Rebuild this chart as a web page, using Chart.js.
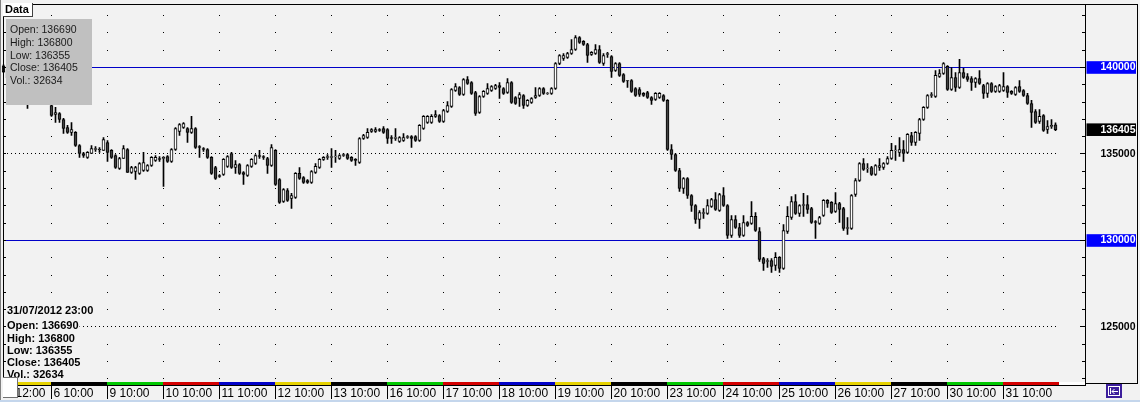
<!DOCTYPE html>
<html>
<head>
<meta charset="utf-8">
<script src="https://cdn.jsdelivr.net/npm/chart.js@4.4.0/dist/chart.umd.min.js"></script>
<style>
  html, body { margin: 0; padding: 0; background: #f2f2f2; }
  #wrap { width: 1140px; height: 402px; }
</style>
</head>
<body>
<div id="wrap"><canvas id="chart" width="1140" height="402"></canvas></div>
<script>
// === Data (hourly bars, July 2012) ===
const days = [5, 6, 9, 10, 11, 12, 13, 16, 17, 18, 19, 20, 23, 24, 25, 26, 27, 30, 31];
const sessionHours = [10, 11, 12, 13, 14, 15, 16, 17, 18, 19, 20, 21, 22, 23];
const firstDayFromHour = 12;
const emptySlots = 7;

const opens = [
  140100, 139750, 139400, 139200, 139350, 138950, 138800, 138100, 138300, 138200, 138050, 138100,
  137805, 137285, 137340, 136995, 136530, 136245, 136245, 135490, 135030, 134800, 135030, 135260, 135290, 135205,
  135665, 135205, 134915, 134165, 134740, 135260, 133930, 133990, 133875, 134045, 134045, 134335, 134625, 134740,
  134740, 134855, 134565, 135260, 136300, 136530, 136475, 136245, 136475, 135435, 135320, 135260, 134800, 134220,
  133755, 133815, 134280, 135030, 134220, 134395, 133930, 133755, 134280, 134450, 134915, 134855, 134740, 134335,
  135205, 133525, 132255, 132890, 132430, 132485, 133875, 133640, 133470, 133355, 133930, 134220, 134685, 134800,
  134800, 134855, 134740, 134915, 134970, 134800, 134685, 134510, 135895, 135955, 136300, 136300, 136415, 136475,
  136415, 135955, 135900, 135725, 135780, 135955, 136010, 136010, 135780, 136475, 136820, 136820, 137170, 137225,
  136880, 137455, 137745, 138670, 138845, 138440, 139305, 139135, 138555, 137400, 138325, 138500, 138670, 138785,
  138960, 138785, 138555, 139135, 138265, 138210, 138380, 137805, 137975, 138265, 138380, 138785, 138500, 138500,
  138785, 140230, 140520, 140580, 140810, 141040, 141735, 141505, 141330, 140750, 140810, 141040, 140230, 140750,
  140635, 139825, 140230, 139595, 139250, 139250, 138785, 138730, 138500, 138555, 138265, 138150, 138265, 138380,
  138095, 135260, 134970, 134045, 133005, 133585, 132600, 132025, 131215, 131560, 131560, 131965, 132370, 131735,
  132600, 132025, 130290, 131215, 130750, 130290, 131040, 130985, 131390, 130520, 128960, 128785, 128845, 128555,
  129020, 128385, 130520, 131330, 132255, 131560, 132025, 132080, 131850, 131100, 130985, 131445, 132315, 132200,
  131675, 132140, 131850, 130695, 130695, 132660, 133470, 134450, 134160, 134220, 133815, 134220, 134220, 134450,
  134740, 135205, 135090, 135260, 135090, 136070, 135665, 136185, 136995, 137690, 138380, 138325, 139480, 139655,
  140060, 138730, 139420, 138845, 139710, 139480, 139365, 139135, 139365, 138960, 138500, 139075, 138615, 138615,
  138670, 138900, 138615, 138440, 138900, 138670, 138380, 137920, 137455, 136880, 137225, 136415, 136590, 136690
];
const highs = [
  140150, 139850, 139550, 139450, 139400, 139100, 138900, 138400, 138450, 138350, 138200, 138150,
  137900, 137690, 137400, 137055, 136650, 136820, 136300, 135550, 135090, 135145, 135490, 135435, 135375, 135955,
  135780, 135260, 134970, 134800, 135490, 135320, 134280, 134280, 134510, 135090, 134395, 134855, 134915, 134855,
  134855, 134915, 135320, 136530, 136765, 136820, 136530, 137170, 136530, 135490, 135375, 135320, 134855, 134280,
  133815, 134740, 134915, 135090, 134625, 134450, 133990, 134395, 134740, 134970, 135205, 134915, 134800, 135550,
  135260, 133585, 133005, 133005, 132720, 133930, 134220, 133700, 133525, 134045, 134450, 134740, 134855, 134970,
  135320, 135205, 134970, 135030, 135030, 134855, 134740, 135955, 136130, 136475, 136475, 136530, 136475, 136590,
  136475, 136070, 136475, 136010, 136185, 136070, 136070, 136070, 136705, 137225, 137225, 137285, 137515, 137285,
  137575, 138035, 138785, 139075, 138900, 139365, 139480, 139190, 138615, 138380, 138670, 139075, 138960, 139020,
  139135, 138845, 139365, 139190, 138325, 138555, 138440, 138150, 138265, 138845, 138845, 138845, 138555, 138845,
  140290, 140750, 140810, 140870, 141620, 141850, 141790, 141560, 141390, 140925, 141330, 141270, 140810, 140870,
  140695, 140290, 140290, 139655, 139250, 139305, 138845, 138845, 138555, 138615, 138325, 138555, 138555, 138440,
  138150, 135550, 135030, 134165, 133640, 133640, 132660, 132080, 131735, 131850, 132370, 132430, 132775, 132720,
  133065, 132080, 131445, 131445, 130985, 131445, 131100, 132255, 131620, 130750, 129020, 128960, 128960, 129305,
  129075, 130925, 131965, 132545, 132660, 132080, 132720, 132600, 131910, 131155, 131390, 132370, 132370, 132255,
  132775, 132200, 131910, 131330, 132660, 133585, 134510, 134740, 134450, 134280, 134395, 134740, 134510, 134855,
  135610, 135490, 135955, 135780, 136185, 136245, 136300, 137055, 137745, 138440, 138555, 139825, 139885, 140290,
  140115, 140000, 139710, 140465, 139945, 139655, 139480, 139420, 139825, 139020, 139135, 139135, 138960, 139020,
  139710, 138960, 138670, 138900, 139250, 138730, 138500, 138095, 137570, 137570, 137285, 136935, 136995, 136800
];
const lows = [
  139700, 139300, 139100, 139050, 138850, 138700, 137630, 137950, 138100, 137950, 137950, 137900,
  137170, 136820, 136820, 136185, 136185, 136070, 135435, 134800, 134800, 134740, 135030, 135145, 135090, 135205,
  134565, 134740, 134160, 134105, 134740, 133930, 133875, 133525, 133815, 133990, 133990, 134280, 134565, 134565,
  133120, 134510, 134510, 135205, 136070, 136475, 135665, 136185, 135320, 134800, 135145, 134740, 133815, 133525,
  133640, 133755, 134220, 134160, 133875, 133815, 133240, 133700, 134220, 134395, 134740, 134685, 133875, 134280,
  133180, 132140, 132195, 132255, 131850, 132430, 133525, 133295, 133295, 133295, 133875, 134165, 134625, 134685,
  134220, 134510, 134685, 134855, 134685, 134565, 134335, 134450, 135840, 135895, 136245, 136245, 136300, 136185,
  135610, 135610, 135780, 135665, 135725, 135895, 135375, 135725, 135725, 136415, 136765, 136765, 137110, 136820,
  136820, 137400, 137690, 138615, 138380, 138380, 139020, 138440, 137225, 137340, 138270, 138440, 138615, 138730,
  138210, 138440, 138500, 137920, 137860, 137745, 137630, 137745, 137920, 138210, 138325, 138440, 138440, 138440,
  138730, 140170, 140405, 140520, 140750, 140985, 141390, 141270, 140290, 140695, 140750, 140230, 140115, 140580,
  139420, 139770, 139480, 139135, 138845, 138555, 138325, 138325, 138325, 138210, 137860, 138095, 138210, 138035,
  135205, 134680, 133990, 132835, 132720, 132430, 131675, 130985, 130695, 131270, 131500, 131910, 131735, 131675,
  131965, 130115, 130175, 130695, 130175, 130230, 130810, 130925, 130520, 128785, 128265, 128440, 128150, 128265,
  128150, 128325, 130405, 131215, 131500, 131390, 131390, 131560, 130985, 130115, 130925, 131390, 131910, 131560,
  131620, 131040, 130580, 130350, 130635, 132545, 133410, 134045, 133930, 133760, 133760, 134045, 134105, 134395,
  134685, 134625, 134855, 134565, 135030, 135490, 135490, 135780, 136935, 137630, 138265, 138265, 139420, 139600,
  138670, 138670, 138615, 138785, 139365, 139190, 138670, 138845, 139020, 138210, 138265, 138555, 138555, 138555,
  138615, 138265, 138440, 138380, 138555, 138325, 137860, 136530, 136765, 136765, 136300, 136185, 136475, 136355
];
const closes = [
  139750, 139400, 139200, 139350, 138950, 138800, 138100, 138300, 138200, 138050, 138100, 137950,
  137225, 137400, 136995, 136475, 136245, 136415, 135490, 135030, 134915, 135090, 135320, 135320, 135250, 135840,
  135090, 134800, 134220, 134740, 135320, 133930, 134220, 134220, 134450, 134510, 134335, 134800, 134800, 134685,
  134800, 134565, 135260, 136475, 136705, 136765, 136245, 136475, 135375, 135375, 135260, 134800, 133875, 133585,
  133700, 134685, 134855, 134220, 134395, 133875, 133815, 134335, 134685, 134915, 134855, 134800, 134335, 135375,
  133240, 132195, 132950, 132315, 132600, 133875, 133585, 133355, 133355, 133990, 134280, 134685, 134800, 134855,
  134855, 134875, 134915, 134970, 134740, 134625, 134625, 135895, 136070, 136245, 136415, 136415, 136360, 136245,
  135895, 135895, 135955, 135955, 135955, 136010, 135895, 135780, 136650, 137170, 137170, 137170, 137285, 136880,
  137515, 137805, 138730, 138900, 138440, 139305, 139075, 138500, 137340, 138325, 138615, 138785, 138900, 138960,
  138845, 138500, 139135, 137975, 137920, 138440, 137805, 138095, 138210, 138380, 138785, 138500, 138520, 138785,
  140230, 140695, 140695, 140810, 141040, 141735, 141445, 141330, 140695, 140870, 141040, 140290, 140695, 140810,
  139770, 140230, 139540, 139190, 139230, 138615, 138380, 138440, 138380, 138265, 138095, 138500, 138500, 138095,
  135260, 134970, 134045, 133005, 133585, 132600, 132025, 131215, 131620, 131620, 132025, 132370, 131790, 132660,
  132025, 130290, 131215, 130750, 130290, 131040, 130870, 131390, 130580, 128905, 128670, 128845, 128500, 129020,
  128385, 130580, 131390, 132255, 131560, 132025, 132080, 131790, 131040, 131040, 131330, 132315, 132140, 131620,
  132140, 131790, 130695, 130750, 132600, 133470, 134450, 134105, 134180, 133815, 134335, 134335, 134450, 134740,
  135205, 135220, 135260, 135030, 136130, 135665, 136245, 136995, 137690, 138380, 138440, 139540, 139655, 140230,
  138730, 139420, 138845, 139710, 139420, 139305, 139135, 139365, 139075, 138500, 139075, 138615, 138900, 138960,
  138900, 138555, 138500, 138845, 138615, 138380, 137920, 137400, 136820, 137170, 136360, 136590, 136650, 136405
];
const lastTime = '31/07/2012 23:00';
const lastVolume = 32634;

// price axis
const yTickValues = [
  122000, 123000, 124000, 125000, 126000, 127000, 128000, 129000, 130000, 131000, 132000,
  133000, 134000, 135000, 136000, 137000, 138000, 139000, 140000, 141000, 142000, 143000
];
const yLabelValues = [125000, 130000, 135000, 140000];
const blueLevels = [140000, 130000];
const dottedLevels = [135000, 125000];
const yMin = 121647;
const yMax = 143670;

// weekday -> colour of the strip under each day
const weekdayColors = { 1: '#00c800', 2: '#d40000', 3: '#0000c8', 4: '#e6d200', 5: '#000000' };

// === Build categories ===
const labels = [];
const dayStarts = [];
days.forEach((d, k) => {
    dayStarts.push(labels.length);
    const hours = k === 0 ? sessionHours.filter(h => h >= firstDayFromHour) : sessionHours;
    hours.forEach(h => labels.push(d + ' ' + h + ':00'));
});
const candleCount = labels.length;
for (let k = 0; k < emptySlots; k++) labels.push('');

const lastClose = closes[closes.length - 1];
const bodies = opens.map((o, i) => [o, closes[i]]);
const wicks = lows.map((l, i) => [l, highs[i]]);

const bg = '#f2f2f2';
const font = 'Liberation Sans';

// === Overlay drawing ===
const overlay = {
    id: 'overlay',
    beforeDraw(chart) {
        const ctx = chart.ctx;
        ctx.save();
        ctx.fillStyle = bg;
        ctx.fillRect(0, 0, chart.width, chart.height);
        ctx.restore();
    },
    beforeDatasetsDraw(chart) {
        const { ctx, scales: { x, y } } = chart;
        const px = v => Math.floor(v);
        ctx.save();
        ctx.fillStyle = '#000';
        // dot grid on day starts
        dayStarts.forEach((i, k) => {
            if (k === 0) return;
            const cx = px(x.getPixelForValue(i));
            yTickValues.forEach(v => ctx.fillRect(cx, px(y.getPixelForValue(v)), 1, 1));
        });
        // dotted levels, one dot per bar
        dottedLevels.forEach(v => {
            const cy = px(y.getPixelForValue(v));
            for (let i = 0; i < candleCount; i++) ctx.fillRect(px(x.getPixelForValue(i)), cy, 1, 1);
        });
        // solid blue levels
        ctx.fillStyle = '#0000c8';
        blueLevels.forEach(v => ctx.fillRect(3, px(y.getPixelForValue(v)), 1083, 1));
        ctx.restore();
    },
    afterDatasetsDraw(chart) {
        const { ctx, scales: { x, y } } = chart;
        const px = v => Math.floor(v);
        ctx.save();

        // day colour strip
        dayStarts.forEach((i, k) => {
            const x0 = k === 0 ? 4 : px(x.getPixelForValue(i));
            const x1 = px(x.getPixelForValue(k < dayStarts.length - 1 ? dayStarts[k + 1] : candleCount));
            const dow = new Date(2012, 6, days[k]).getDay();
            ctx.fillStyle = weekdayColors[dow];
            ctx.fillRect(x0, 382, x1 - x0, 3);
        });
        ctx.fillStyle = '#ffffff';
        const endX = px(x.getPixelForValue(candleCount));
        ctx.fillRect(endX, 382, 1085 - endX, 3);

        // frames
        ctx.fillStyle = '#000';
        ctx.fillRect(3, 4, 1083, 1);
        ctx.fillRect(3, 4, 1, 382);
        ctx.fillRect(1085, 4, 1, 382);
        ctx.fillRect(3, 385, 1083, 1);
        ctx.fillRect(1085, 4, 53, 1);
        ctx.fillRect(1137, 4, 1, 380);
        ctx.fillRect(1085, 383, 53, 1);
        ctx.fillStyle = '#808080';
        ctx.fillRect(0, 0, 1, 402);

        // day separators under the strip
        ctx.fillStyle = '#000';
        dayStarts.forEach((i, k) => {
            if (k === 0) return;
            ctx.fillRect(px(x.getPixelForValue(i)), 385, 1, 14);
        });

        // tick marks on both edges
        yTickValues.forEach(v => {
            const cy = px(y.getPixelForValue(v));
            const len = v % 5000 === 0 ? 5 : 3;
            ctx.fillRect(1085 - len, cy, len, 1);
            ctx.fillRect(4, cy, 2, 1);
        });

        // info box top-left
        ctx.fillStyle = '#c0c0c0';
        ctx.fillRect(6, 19, 86, 86);
        const n = closes.length - 1;
        const info = ['Open: ' + opens[n], 'High: ' + highs[n], 'Low: ' + lows[n], 'Close: ' + closes[n], 'Vol.: ' + lastVolume];
        ctx.fillStyle = '#1a1a1a';
        ctx.font = '10.5px "' + font + '"';
        ctx.textBaseline = 'middle';
        info.forEach((t, k) => ctx.fillText(t, 10, 30.5 + k * 12.7));

        // "Data" tab
        ctx.fillStyle = '#ffffff';
        ctx.fillRect(3, 3, 30, 13);
        ctx.fillStyle = '#404040';
        ctx.fillRect(32, 3, 1, 14);
        ctx.fillRect(3, 16, 30, 1);
        ctx.fillStyle = '#000';
        ctx.font = 'bold 11px "' + font + '"';
        ctx.fillText('Data', 5, 10);

        // last bar details bottom-left
        const lines = [lastTime, '', 'Open: ' + opens[n], 'High: ' + highs[n], 'Low: ' + lows[n], 'Close: ' + closes[n], 'Vol.: ' + lastVolume];
        const ys = [311, 0, 326, 338.5, 350.5, 362.5, 374.5];
        lines.forEach((t, k) => {
            if (!t) return;
            const w = ctx.measureText(t).width;
            ctx.fillStyle = bg;
            ctx.fillRect(6, ys[k] - 6, w + 2, 12);
            ctx.fillStyle = '#000';
            ctx.fillText(t, 7, ys[k]);
        });

        // small white box bottom-left
        ctx.fillStyle = '#ffffff';
        ctx.fillRect(3, 377, 15, 21);
        ctx.fillStyle = '#707070';
        ctx.fillRect(3, 377, 15, 1);
        ctx.fillRect(17, 377, 1, 21);
        ctx.fillRect(3, 397, 15, 1);

        // scroll icon bottom-right
        ctx.fillStyle = '#3c1e9c';
        ctx.fillRect(1106, 384, 16, 14);
        ctx.strokeStyle = '#ffffff';
        ctx.lineWidth = 1;
        ctx.strokeRect(1108.5, 386.5, 11, 9);
        ctx.beginPath();
        ctx.moveTo(1110.5, 388); ctx.lineTo(1110.5, 394);
        ctx.moveTo(1112, 391.5); ctx.lineTo(1118, 391.5);
        ctx.moveTo(1114.5, 389); ctx.lineTo(1112, 391.5); ctx.lineTo(1114.5, 394);
        ctx.stroke();

        // window strip at the very bottom
        ctx.fillStyle = '#c4d6ec';
        ctx.fillRect(0, 400, 1140, 2);
        ctx.restore();
    }
};

// === Chart ===
const chart = new Chart(document.getElementById('chart'), {
    type: 'bar',
    data: {
        labels: labels,
        datasets: [
            {
                label: 'body',
                data: bodies,
                grouped: false,
                order: 0,
                barThickness: 3,
                borderWidth: 1,
                borderColor: '#000',
                borderSkipped: false,
                backgroundColor: c => closes[c.dataIndex] >= opens[c.dataIndex] ? '#ffffff' : '#404040'
            },
            {
                label: 'range',
                data: wicks,
                grouped: false,
                order: 1,
                barThickness: 1,
                borderWidth: 0,
                backgroundColor: '#000'
            }
        ]
    },
    options: {
        responsive: false,
        animation: false,
        devicePixelRatio: 1,
        layout: { padding: { left: 1.5, top: 4, right: 4, bottom: 1 } },
        plugins: { legend: { display: false }, tooltip: { enabled: false } },
        scales: {
            x: {
                type: 'category',
                offset: true,
                grid: { display: false, drawTicks: false, tickLength: 0 },
                border: { display: false },
                ticks: {
                    autoSkip: false,
                    maxRotation: 0,
                    minRotation: 0,
                    align: 'start',
                    labelOffset: 2,
                    padding: 1,
                    color: '#000',
                    font: { family: font, size: 12 },
                    callback: (v, i) => dayStarts.includes(i) ? (i === 0 ? labels[i] : days[dayStarts.indexOf(i)] + ' 10:00') : ''
                },
                afterFit: s => { s.height = 16; s.paddingLeft = 0; s.paddingRight = 0; }
            },
            y: {
                position: 'right',
                min: yMin,
                max: yMax,
                grid: { display: false, drawTicks: false, tickLength: 0 },
                border: { display: false },
                ticks: {
                    autoSkip: false,
                    crossAlign: 'near',
                    padding: 15,
                    font: { family: font, size: 10.5, weight: 'bold' },
                    color: c => (c.tick.value === lastClose || blueLevels.includes(c.tick.value)) ? '#ffffff' : '#000000',
                    showLabelBackdrop: true,
                    backdropColor: c => c.tick.value === lastClose ? '#000000' : (blueLevels.includes(c.tick.value) ? '#0000ff' : 'rgba(0,0,0,0)'),
                    backdropPadding: { left: 14, right: 2, top: 0, bottom: 0 },
                    callback: v => (v === lastClose || yLabelValues.includes(v)) ? String(v) : ''
                },
                afterBuildTicks: s => {
                    s.ticks = yTickValues.concat([lastClose]).sort((p, q) => p - q).map(v => ({ value: v }));
                },
                afterFit: s => { s.width = 50.5; s.paddingTop = 0; s.paddingBottom = 0; }
            }
        }
    },
    plugins: [overlay]
});
</script>
</body>
</html>
